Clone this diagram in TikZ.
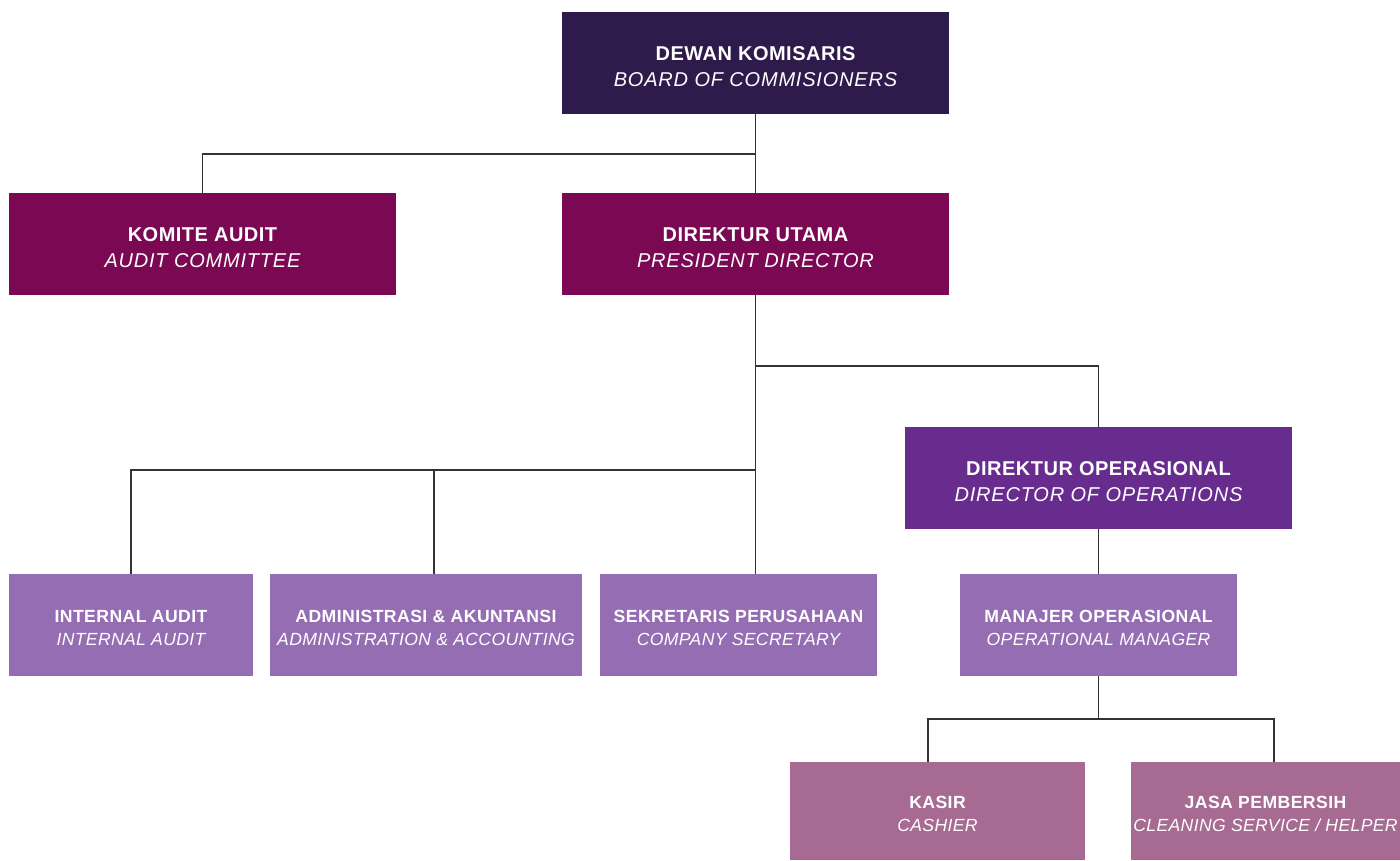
\documentclass[tikz,border=0pt]{standalone}
\usepackage{fontspec}
\setmainfont{Liberation Sans}
\newfontfamily\widebold{Liberation Sans}[LetterSpace=2.5]
\newfontfamily\wideitalic{Liberation Sans}[LetterSpace=4.0]
\newfontfamily\narrowitalic{Liberation Sans}[LetterSpace=2.0]

% warna kotak
\definecolor{boardcol}{HTML}{2E1A4B}
\definecolor{directcol}{HTML}{7B0852}
\definecolor{opscol}{HTML}{682C8F}
\definecolor{staffcol}{HTML}{956DB3}
\definecolor{helpercol}{HTML}{A66A93}
\definecolor{linkcol}{HTML}{333333}

% dua baris teks: nama dan terjemahan
\let\italfam\wideitalic
\newcommand{\orgtext}[2]{\rule{0pt}{1.05em}{\widebold\bfseries #1}\\{\italfam\itshape #2}}

\begin{document}
\begin{tikzpicture}[
        x=1pt, y=-1pt,
        unit/.style={text=white, align=center, inner sep=0pt,
          font=\fontsize{20}{26}\selectfont},
        bigunit/.style={unit, minimum width=387, minimum height=102},
        smallunit/.style={unit, minimum height=102,
          font=\fontsize{17.6}{23.5}\selectfont\let\italfam\narrowitalic},
        link/.style={draw=linkcol, line width=1.3pt}]
        % batas gambar
        \useasboundingbox (0,0) rectangle (1400,860);
        % tingkat atas
        \node[bigunit, fill=boardcol] (dewan) at (755.5,63)
          {\orgtext{DEWAN KOMISARIS}{BOARD OF COMMISIONERS}};
        \node[bigunit, fill=directcol] (komite) at (202.5,244)
          {\orgtext{KOMITE AUDIT}{AUDIT COMMITTEE}};
        \node[bigunit, fill=directcol] (dirut) at (755.5,244)
          {\orgtext{DIREKTUR UTAMA}{PRESIDENT DIRECTOR}};
        \node[bigunit, fill=opscol] (dirops) at (1098.5,478)
          {\orgtext{DIREKTUR OPERASIONAL}{DIRECTOR OF OPERATIONS}};
        % tingkat staf
        \node[smallunit, fill=staffcol, minimum width=244] (internal) at (131,625)
          {\orgtext{INTERNAL AUDIT}{INTERNAL AUDIT}};
        \node[smallunit, fill=staffcol, minimum width=312] (admin) at (426,625)
          {\orgtext{ADMINISTRASI \& AKUNTANSI}{ADMINISTRATION \& ACCOUNTING}};
        \node[smallunit, fill=staffcol, minimum width=277] (sekretaris) at (738.5,625)
          {\orgtext{SEKRETARIS PERUSAHAAN}{COMPANY SECRETARY}};
        \node[smallunit, fill=staffcol, minimum width=277] (manajer) at (1098.5,625)
          {\orgtext{MANAJER OPERASIONAL}{OPERATIONAL MANAGER}};
        % tingkat bawah
        \node[smallunit, fill=helpercol, minimum width=295, minimum height=98] (kasir) at (937.5,811)
          {\orgtext{KASIR}{CASHIER}};
        \node[smallunit, fill=helpercol, minimum width=269, minimum height=98] (jasa) at (1265.5,811)
          {\orgtext{JASA PEMBERSIH}{CLEANING SERVICE / HELPER}};
        % titik cabang
        \coordinate (cabangatas) at (755.5,154);
        \coordinate (cabangops) at (755.5,366);
        \coordinate (cabangstaf) at (755.5,470);
        \coordinate (cabangbawah) at (1098.5,719);
        % garis penghubung
        \draw[link] (dewan.south) -- (dirut.north);
        \draw[link] (cabangatas) -| (komite.north);
        \draw[link] (dirut.south) -- (dirut.south |- sekretaris.north);
        \draw[link] (cabangops) -| (dirops.north);
        \draw[link] (cabangstaf) -| (internal.north);
        \draw[link] (cabangstaf) -| ([xshift=8]admin.north);
        \draw[link] (dirops.south) -- (manajer.north);
        \draw[link] (manajer.south) -- (cabangbawah);
        \draw[link] (cabangbawah) -| ([xshift=-9.5]kasir.north);
        \draw[link] (cabangbawah) -| ([xshift=8.5]jasa.north);
      \end{tikzpicture}
\end{document}
